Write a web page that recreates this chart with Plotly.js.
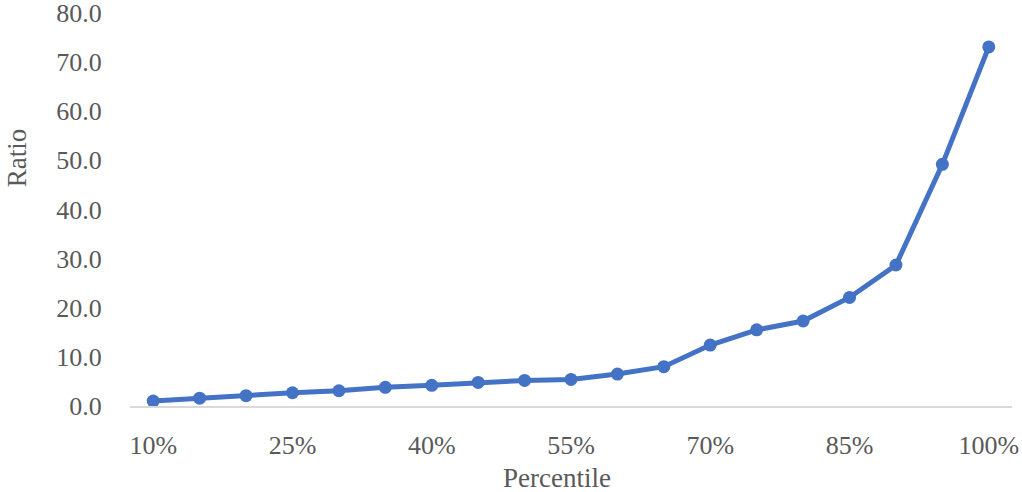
<!DOCTYPE html>
<html>
<head>
<meta charset="utf-8">
<script src="https://cdn.plot.ly/plotly-3.0.1.min.js"></script>
<style>html,body{margin:0;padding:0;background:#fff;}#chart{width:1022px;height:492px;}</style>
</head>
<body>
<div id="chart"></div>
<script>
const categories = ["10%","15%","20%","25%","30%","35%","40%","45%","50%","55%","60%","65%","70%","75%","80%","85%","90%","95%","100%"];
const ratio = [1.0,1.6,2.1,2.7,3.1,3.8,4.2,4.8,5.2,5.4,6.5,8.0,12.4,15.5,17.3,22.1,28.7,49.2,73.1];
const xTickLabels = ["10%","25%","40%","55%","70%","85%","100%"];
const yTickVals = [0,10,20,30,40,50,60,70,80];

const font = {family: "Liberation Serif, Times New Roman, serif", size: 26, color: "#595959"};
const titleFont = {family: "Liberation Serif, Times New Roman, serif", size: 27, color: "#595959"};

Plotly.newPlot("chart", [{
  type: "scatter",
  mode: "lines+markers",
  x: categories,
  y: ratio,
  line: {color: "#4472C4", width: 5},
  marker: {color: "#4472C4", size: 13},
  hoverinfo: "x+y"
}], {
  width: 1022, height: 492,
  margin: {l: 130, r: 10, t: 13, b: 86},
  paper_bgcolor: "#fff", plot_bgcolor: "#fff",
  font: font,
  showlegend: false,
  xaxis: {
    type: "category",
    range: [-0.5, 18.5],
    tickvals: xTickLabels,
    ticktext: xTickLabels,
    showgrid: false,
    zeroline: false,
    showline: true,
    linecolor: "#D9D9D9",
    linewidth: 1.5,
    ticks: "outside", ticklen: 15, tickcolor: "rgba(0,0,0,0)",
    tickfont: font,
    ticklabeloverflow: "allow"
  },
  yaxis: {
    range: [0, 80],
    tickvals: yTickVals,
    tickformat: ".1f",
    showgrid: false,
    zeroline: false,
    showline: false,
    ticks: "outside", ticklen: 22, tickcolor: "rgba(0,0,0,0)",
    tickfont: font,
    ticklabeloverflow: "allow"
  },
  annotations: [
    {text: "Ratio", xref: "paper", yref: "paper", x: (17 - 130) / 882, y: (405 - 157) / 392,
     xanchor: "center", yanchor: "middle", textangle: -90, showarrow: false, font: titleFont},
    {text: "Percentile", xref: "paper", yref: "paper", x: (557 - 130) / 882, y: -(477 - 405) / 392,
     xanchor: "center", yanchor: "middle", showarrow: false, font: titleFont}
  ]
}, {displayModeBar: false});
</script>
</body>
</html>
